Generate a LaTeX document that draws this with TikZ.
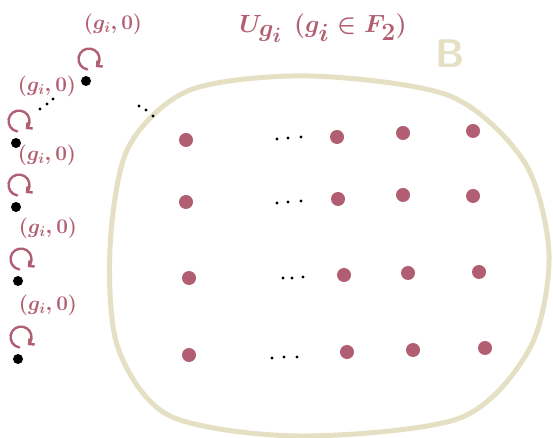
\documentclass[tikz,border=0pt]{standalone}
\usepackage{amsmath, amssymb}
\usepackage{tikz}
\usetikzlibrary{arrows.meta,positioning}

\begin{document}
\begin{tikzpicture}[x=1pt,y=1pt]
    % Colors and styles
    \definecolor{mymauve}{RGB}{178,94,114} % dots and labels
    \definecolor{mybeige}{RGB}{229,224,196} % the set B
    \tikzset{
        reddot/.style={circle, fill=mymauve, inner sep=0pt, minimum size=14pt},
        blackdot/.style={circle, fill=black, inner sep=0pt, minimum size=10pt},
        tinydot/.style={circle, fill=black, inner sep=0pt, minimum size=3.2pt},
        pairlabel/.style={text=mymauve, font=\fontsize{22}{26}\selectfont\boldmath},
        selfloop/.style={draw=mymauve, line width=2.4pt, line cap=round,
            -{Straight Barb[length=4pt,width=8pt]},
            to path={([shift={(1.2pt,11.6pt)}]\tikztostart.center)
                arc[start angle=-100, delta angle=-310, radius=10.5pt]}}
    }

    \useasboundingbox (0,0) rectangle (553,438);

    % The set B
    \draw[mybeige, line width=5pt] plot[smooth cycle] coordinates {
        (310,362) (450,342) (525,275) (549,183) (530,90) (460,20)
        (300,2) (170,22) (118,90) (110,190) (128,290) (190,348)};
    \node[text=mybeige, font=\fontsize{40}{44}\selectfont\sffamily\bfseries] (setB) at (450,384) {B};

    % Title
    \node[text=mymauve, font=\fontsize{40}{46}\selectfont\boldmath, anchor=base] (title) at (323,405) {$U_{g_i}\ (g_i \in F_2)$};

    % Points of B
    \foreach \x/\y/\n in {186/298/11, 337/301/12, 403/305/13, 473/307/14,
                          186/236/21, 338/239/22, 403/243/23, 473/242/24,
                          189/160/31, 344/163/32, 408/165/33, 479/166/34,
                          189/83/41, 347/86/42, 413/88/43, 485/90/44}
    {
        \node[reddot] (r\n) at (\x,\y) {};
    }

    % Dots
    \foreach \x/\y/\n in {277/299/a1, 288/300/a2, 301/301/a3,
                          277/235/b1, 288/236/b2, 301/237/b3,
                          283/160/c1, 292/160/c2, 303/161/c3,
                          272/80/d1, 284/81/d2, 297/81/d3,
                          139/332/e1, 146/328/e2, 153/322/e3,
                          40/329/f1, 47/334/f2, 53/339/f3}
    {
        \node[tinydot] (dot\n) at (\x,\y) {};
    }

    % Fixed points with their labels
    \node[blackdot] (b1) at (86,357) {};
    \node[blackdot] (b2) at (16,295) {};
    \node[blackdot] (b3) at (16,231) {};
    \node[blackdot] (b4) at (18,157) {};
    \node[blackdot] (b5) at (18,79) {};

    \node[pairlabel] (l1) at (113,414) {$(g_i,0)$};
    \node[pairlabel] (l2) at (47,352) {$(g_i,0)$};
    \node[pairlabel] (l3) at (47,283) {$(g_i,0)$};
    \node[pairlabel] (l4) at (48,210) {$(g_i,0)$};
    \node[pairlabel] (l5) at (48,133) {$(g_i,0)$};

    % Loops
    \foreach \n in {1,...,5}
    {
        \draw[selfloop] (b\n) to (b\n);
    }

\end{tikzpicture}
\end{document}
